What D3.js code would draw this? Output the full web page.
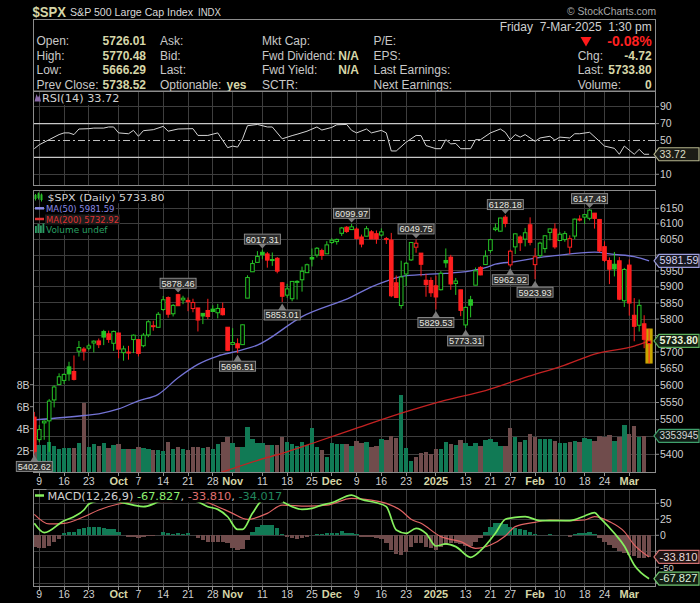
<!DOCTYPE html>
<html><head><meta charset="utf-8">
<script src="https://cdn.jsdelivr.net/npm/d3@7/dist/d3.min.js"></script>
<style>
html,body{margin:0;padding:0;background:#000;overflow:hidden}
svg{display:block}
</style></head><body>
<svg id="chart" width="700" height="603"></svg>
<script>
// ---------------- DATA ----------------
const prevCloseBefore = 5503.41;
const opens = [5507.33,5442.07,5490.51,5496.42,5557.48,5603.34,5615.21,5655.51,5641.68,5702.63,
5709.19,5711.90,5727.42,5733.65,5762.22,5755.36,5726.52,5757.73,5698.19,5698.56,
5737.80,5737.80,5719.14,5751.80,5778.36,5775.09,5829.81,5866.74,5816.58,5875.62,
5859.43,5857.82,5832.70,5834.50,5817.80,5826.75,5830.84,5819.68,5832.65,5775.34,
5723.22,5725.15,5722.43,5864.89,5947.21,5976.76,6008.86,6003.60,5985.75,5989.68,
5912.79,5874.17,5863.04,5914.01,5922.05,5944.36,5992.28,6000.03,6014.11,6003.98,
6040.11,6042.97,6069.39,6089.03,6081.38,6083.01,6057.59,6060.15,6074.29,6068.17,
6063.79,6052.55,6047.65,5912.71,5842.00,5940.25,5984.63,6024.97,6006.17,5920.67,
5919.74,5903.26,5891.07,5982.81,5993.26,5910.66,5890.66,5782.35,5859.78,5905.21,
5961.14,5969.94,6014.12,6081.39,6076.32,6121.43,5969.04,6026.01,6057.70,6050.75,
6096.79,5969.65,5998.14,6020.45,6072.22,6083.13,6046.40,6049.32,6025.08,6060.59,
6115.52,6121.60,6117.76,6134.50,6114.10,6026.69,5982.73,5970.87,5981.88,5856.74,
5968.33,5811.98,5781.35,5785.87,5726.01];
const highs = [5522.47,5484.20,5497.91,5560.41,5600.71,5636.27,5636.05,5670.81,5689.75,5733.57,
5715.14,5725.36,5735.32,5741.03,5767.37,5764.76,5765.14,5757.73,5719.14,5718.78,
5753.27,5739.34,5757.60,5796.80,5795.03,5822.13,5871.41,5870.36,5846.52,5878.46,
5872.17,5866.92,5863.04,5834.85,5817.80,5862.82,5842.92,5847.19,5850.94,5775.34,
5772.50,5741.43,5783.44,5936.14,5983.84,6012.45,6017.31,6009.92,6008.19,5993.88,
5915.26,5909.44,5917.11,5920.67,5963.44,5972.90,6020.75,6025.42,6020.16,6044.17,
6053.58,6052.41,6089.84,6092.39,6099.97,6088.51,6065.40,6092.59,6079.68,6078.58,
6085.19,6057.68,6070.67,5935.52,5982.06,5978.25,6040.10,6049.75,6006.17,5940.79,
5929.74,5935.09,5949.34,6021.04,6000.68,5927.89,5890.66,5838.80,5871.92,5960.61,
5964.69,6014.96,6051.51,6100.81,6118.73,6128.18,6017.17,6069.10,6062.83,6086.64,
6120.91,6022.13,6042.48,6062.86,6084.03,6101.28,6073.38,6076.28,6063.00,6116.91,
6127.47,6129.63,6147.43,6134.50,6114.82,6043.65,5992.65,6009.82,5993.69,5959.40,
5986.09,5865.08,5860.59,5812.08,5770.48];
const lows = [5402.62,5434.49,5441.72,5406.96,5535.50,5601.65,5604.53,5614.05,5615.08,5686.42,
5674.49,5704.94,5698.99,5712.06,5721.01,5727.77,5703.53,5681.28,5674.00,5677.08,
5696.85,5686.85,5714.56,5745.02,5764.76,5775.09,5824.80,5804.48,5808.34,5840.25,
5846.11,5824.59,5821.17,5762.41,5784.92,5799.98,5823.08,5802.40,5811.28,5702.86,
5723.22,5696.51,5722.10,5864.89,5947.21,5976.76,5986.69,5960.08,5965.91,5942.28,
5853.01,5865.95,5855.02,5860.58,5885.06,5944.36,5963.91,5992.27,5984.87,6003.98,
6035.33,6033.39,6061.06,6070.68,6079.98,6048.63,6024.49,6060.15,6051.25,6035.77,
6059.14,6035.19,5867.79,5866.07,5832.30,5902.57,5981.44,6007.37,5932.95,5869.16,
5868.86,5829.53,5888.66,5960.01,5890.68,5874.78,5809.22,5773.31,5805.60,5905.21,
5936.33,5969.94,6006.88,6076.13,6074.67,6088.74,5962.92,6003.16,6012.96,6027.46,
6030.93,5923.93,5990.87,6007.06,6046.83,6019.96,6044.84,6042.34,6003.00,6050.95,
6107.62,6099.51,6111.15,6084.59,6008.56,5977.83,5908.49,5932.69,5858.78,5837.66,
5810.91,5732.59,5762.25,5711.64,5666.29];
const closes = [5408.42,5471.05,5495.52,5554.13,5595.76,5626.02,5633.09,5634.58,5618.26,5713.64,
5702.55,5718.57,5732.93,5722.26,5745.37,5738.17,5762.48,5708.75,5709.54,5699.94,
5751.07,5695.94,5751.13,5792.04,5780.05,5815.03,5859.85,5815.26,5842.47,5841.47,
5864.67,5853.98,5851.20,5797.42,5809.86,5808.12,5823.52,5832.92,5813.67,5705.45,
5728.80,5712.69,5782.76,5929.04,5973.10,5995.54,6001.35,5983.99,5985.38,5949.17,
5870.62,5893.62,5916.98,5917.11,5948.71,5969.34,5987.37,6021.63,5998.74,6032.38,
6047.15,6049.88,6086.49,6075.11,6090.27,6052.85,6034.91,6084.19,6051.25,6051.09,
6074.08,6050.61,5872.16,5867.08,5930.85,5974.07,6040.04,6037.59,5970.84,5906.94,
5881.63,5868.55,5942.47,5975.38,5909.03,5918.25,5827.04,5836.22,5842.91,5949.91,
5937.34,5996.66,6049.24,6086.37,6118.71,6101.24,6012.28,6067.70,6039.31,6071.17,
6040.53,5994.57,6037.88,6061.48,6083.57,6025.99,6066.44,6068.50,6051.97,6115.07,
6114.63,6129.58,6144.15,6117.52,6013.13,5983.25,5955.25,5956.06,5861.57,5954.50,
5849.72,5778.15,5842.63,5738.52,5733.80];
// volume in billions
const volumes = [2.5,2.49,2.49,2.8,2.42,2.18,2.27,2.27,2.27,2.67,
6.3,2.36,2.58,2.42,2.7,2.27,2.49,2.58,2.15,2.15,
2.15,2.3,2.24,2.12,2.03,2.03,1.97,2.79,2.15,2.3,
2.18,2.06,2.3,2.33,2.24,2.3,2.2,2.58,2.79,3.25,
2.67,2.3,2.3,4.12,3.06,2.67,2.67,2.49,2.49,2.49,
3.25,2.79,2.58,2.42,2.79,2.49,4.03,2.3,2.06,1.4,
2.67,2.58,2.58,2.58,2.42,2.88,2.67,2.76,2.33,2.42,
3.06,2.97,3.3,3.12,7.06,2.24,1.03,1.4,1.76,1.88,
1.67,2.15,2.15,2.79,2.58,2.49,2.97,2.7,2.42,2.67,
2.42,2.97,3.03,2.79,2.42,2.39,4.03,3.21,2.79,2.97,
3.49,3.21,3.06,3.06,3.06,2.88,2.7,2.7,2.79,2.88,
2.79,3.15,3.03,2.88,3.33,3.25,3.4,2.88,3.25,4.34,
3.52,4.25,3.25,3.35,0];
const ma50Idx = [0,10,13,17,21,25,29,33,37,41,45,54,64,68,71,74,79,83,88,91,93,97,101,105,113,117,121,124];
const ma50Val = [5499,5512,5517,5531,5555,5574,5623,5663,5688,5703,5721,5808,5869,5900,5918,5932,5939,5942,5950,5960,5971,5979,5990,5998,6009,6002,5995,5981.59];
const ma200Idx = [30,37,47,50,57,64,75,83,91,99,107,113,121,124];
const ma200Val = [5310,5345,5391,5403,5436,5470,5523,5557,5585,5624,5661,5694,5718,5732.92];
const rsiIdx = [0,1,3,5,6,7,8,9,11,12,14,15,16,17,19,20,21,22,24,26,27,29,32,33,35,37,39,40,41,42,43,45,47,48,50,52,53,55,57,58,60,61,63,64,65,67,68,70,71,72,73,75,77,78,79,81,82,83,84,85,86,88,89,90,92,94,95,96,97,98,99,101,102,104,105,106,108,109,110,112,114,115,117,118,119,121,122,123,124];
const rsiVal = [40.3,45,51,57,59,59,57,63.6,64,64.7,64.7,66,66,59,58,62,55,61.6,62.8,66.7,61,63.6,64,56,56,59,41.5,43.4,42.2,52,67.5,69,66,66,52,55.8,57.4,61,66,62.4,65.5,68.6,69,62,59,63.6,59,62,59,37.6,37.6,48,56,55.8,44,40.3,40.3,51,46,46.5,40.3,40.3,51,51,59,63.6,59.7,51,57,54,57,49,53,55,50.4,54,53,58,58,59.7,49,43.4,40.7,33.7,43.4,33.7,39.5,33.7,33.72];
const macdIdx = [0,2,6,8,10,11,13,15,17,20,22,24,25,28,30,33,35,37,39,41,42,44,46,48,50,52,54,56,58,60,64,66,69,71,73,75,77,79,81,83,85,88,90,93,95,97,99,102,105,108,111,113,114,117,119,121,124];
const macdVal = [18.7,4.1,22.8,29,39.5,48.9,54.1,55,52.5,47.2,44.7,48.9,52.5,56,57,52.5,44.7,40.5,29,9.2,9.2,34.3,54.1,56,52.5,44.7,40.5,42,47.2,50.8,62.8,56,50.8,44.7,8.3,3.1,10.9,3.1,-16.7,-13.5,-17.7,-34.4,-24,3.1,25,28.1,29.2,22.9,22.9,22.9,30.2,35.4,28.1,3.1,-16.7,-46.4,-67.827];
const sigIdx = [0,3,6,10,13,17,21,27,33,37,40,43,47,50,55,59,64,68,71,74,76,78,82,86,89,92,95,97,101,104,108,111,113,116,119,121,124];
const sigVal = [32.8,17.7,18.7,29,39.5,48.9,52.5,52.5,55.1,44.7,34.3,24.9,34.3,47.2,45.6,47.2,57.6,55,49.9,38.5,25,18.7,-2.1,-9.9,-20.3,-15.1,-1,13.6,20.3,23.9,22.9,23.9,29.2,21.4,5.7,-15.1,-33.81];
const histVal = [-17.7,-20.3,-20.3,-16.7,-9.9,-6,4.1,4.7,5.7,9.4,
12,13.6,13.6,13.6,12,10.4,9.4,4.7,0.5,-3,
-3,-4.7,-3,-1,-1,0,4.7,3.1,2,3.1,
2,3.1,0,-4.7,-7.3,-9.9,-9.9,-9.9,-9.9,-12.5,
-19.3,-22.9,-21.9,-7.3,5.7,12.5,16.1,16.1,16.1,10.9,
2,-3.1,-4.7,-6.3,-4.7,-3.1,1,2,2,3.1,
3.1,4.1,7.3,4.1,4.1,2,-2,-2,-3,-4.7,
-6.3,-11.5,-22.9,-29.2,-30.7,-25.5,-17.7,-12.5,-11.5,-17.7,
-20.3,-22.9,-17.7,-15.1,-12.5,-12.5,-14,-17,-17,-10,
-4.7,5.7,13.6,18.8,19.8,17.7,13.6,10.9,9.4,8.3,
5.7,2,0,0,2,0,0,0,-2,2,
3.1,4.1,4.7,2,-4.7,-9.9,-15.1,-20.3,-23.9,-28.1,
-30.7,-32.3,-35.9,-35.9,-34];
const annIdx = [0,29,41,46,50,64,77,81,87,95,96,101,112];
const annVal = [5402.62,5878.46,5696.51,6017.31,5853.01,6099.97,6049.75,5829.53,5773.31,6128.18,5962.92,5923.93,6147.43];
const annPos = ['l','h','l','h','l','h','h','l','l','h','l','l','h'];
const tickIdx = [1,6,11,17,21,26,31,36,40,46,51,56,60,65,70,75,81,87,92,96,101,106,111,115,120];
const tickLab = ['9','16','23','Oct','7','14','21','28','Nov','11','18','25','Dec','9','16','23','2025','13','21','27','Feb','10','18','24','Mar'];
const priceTicks = [5400,5450,5500,5550,5600,5650,5700,5750,5800,5850,5900,5950,6000,6050,6100,6150];
const priceTickHidden = [5450,5750,6000];   // covered by value tags in the reference
const volTicks = [2,4,6,8];
const volTickLab = ['2B','4B','6B','8B'];
const rsiTicks = [90,70,50,30,10];
const rsiTickHidden = [30];
const macdTicks = [50,25,0,-25,-50,-75];
const macdTickHidden = [-25,-75];

// ---------------- LAYOUT ----------------
const SANS = '"Liberation Sans", Arial, Helvetica, sans-serif';
const DEJA = '"DejaVu Sans", Verdana, sans-serif';
const PL = 33, PR = 656;
const rsiTop = 91, rsiBot = 186, mainTop = 190, mainBot = 473, macdTop = 489, macdBot = 587;
const GRID = '#3e3e3e', BORDER = '#8c8c8c', AXC = '#cfcfcf', MONTHC = '#d6d6a6';
const UPC = '#26c426', DNC = '#ff1f1f', VUP = '#117a55', VDN = '#704c4c';

const x = d3.scaleLinear().domain([0,124]).range([34.3,649.1]);
const yP = d3.scaleLog().domain([5346.9,6210]).range([mainBot,mainTop]);
const yV = d3.scaleLinear().domain([0,25.7]).range([472.7,190]);
const yR = d3.scaleLinear().domain([10,90]).range([174.3,106.7]);
const yM = d3.scaleLinear().domain([-50,50]).range([567.3,503.3]);

const svg = d3.select('#chart');
svg.append('rect').attr('width',700).attr('height',603).attr('fill','#000');
const defs = svg.append('defs');
function clip(id,y0,y1){defs.append('clipPath').attr('id',id).append('rect').attr('x',PL).attr('y',y0).attr('width',PR-PL).attr('height',y1-y0);}
clip('cR',rsiTop,rsiBot); clip('cM',mainTop,mainBot); clip('cD',macdTop,macdBot);

function text(g,xx,yy,s,o={}){
  const t=g.append('text').attr('x',xx).attr('y',yy).text(s)
    .style('font-family',o.fam||SANS).attr('font-size',o.size||12)
    .attr('fill',o.fill||AXC);
  if(o.weight) t.attr('font-weight',o.weight);
  if(o.anchor) t.attr('text-anchor',o.anchor);
  if(o.len) t.attr('textLength',o.len).attr('lengthAdjust','spacingAndGlyphs');
  return t;
}

// ---------------- HEADER ----------------
const hd = svg.append('g');
text(hd,32.5,16.5,'$SPX',{size:15.5,weight:'bold',fill:MONTHC,len:33.5});
text(hd,70,16,'S&P 500 Large Cap Index',{size:11,fill:'#d8d8d8',len:123});
text(hd,198,16,'INDX',{size:10,fill:'#d8d8d8',len:23});
text(hd,656,15,'© StockCharts.com',{size:11,fill:'#a8a8a8',anchor:'end',len:89});
hd.append('rect').attr('x',PL+0.5).attr('y',19.5).attr('width',PR-PL-1).attr('height',71.5)
  .attr('fill','none').attr('stroke',BORDER);
text(hd,651.7,30.5,'Friday  7-Mar-2025  1:30 pm',{size:12,fill:'#d0d0d0',anchor:'end'}).attr('xml:space','preserve');
const rowsY=[45,59.5,74,88.5];
const LBL='#c8c8c8', VAL='#d6d6a8';
['Open:','High:','Low:','Prev Close:'].forEach((s,i)=>text(hd,36.5,rowsY[i],s,{fill:LBL}));
['5726.01','5770.48','5666.29','5738.52'].forEach((s,i)=>text(hd,146,rowsY[i],s,{fill:VAL,weight:'bold',anchor:'end'}));
['Ask:','Bid:','Last:','Optionable:'].forEach((s,i)=>text(hd,160,rowsY[i],s,{fill:LBL}));
text(hd,226.5,rowsY[3],'yes',{fill:VAL,weight:'bold'});
text(hd,262,rowsY[0],'Mkt Cap:',{fill:LBL});
text(hd,262,rowsY[1],'Fwd Dividend:',{fill:LBL,len:73.5});
text(hd,262,rowsY[2],'Fwd Yield:',{fill:LBL});
text(hd,262,rowsY[3],'SCTR:',{fill:LBL});
text(hd,359,rowsY[1],'N/A',{fill:VAL,weight:'bold',anchor:'end'});
text(hd,359,rowsY[2],'N/A',{fill:VAL,weight:'bold',anchor:'end'});
['P/E:','EPS:','Last Earnings:','Next Earnings:'].forEach((s,i)=>text(hd,373.5,rowsY[i],s,{fill:LBL}));
hd.append('path').attr('d','M580.5,37 L591.5,37 L586,46.5 Z').attr('fill','#ff1a1a');
text(hd,651.7,rowsY[0]+0.5,'-0.08%',{size:14,fill:'#ff2020',weight:'bold',anchor:'end'});
['Chg:','Last:','Volume:'].forEach((s,i)=>text(hd,577.7,rowsY[i+1],s,{fill:LBL}));
['-4.72','5733.80','0'].forEach((s,i)=>text(hd,651.7,rowsY[i+1],s,{fill:VAL,weight:'bold',anchor:'end'}));

// ---------------- GRIDS ----------------
const grid = svg.append('g').attr('shape-rendering','crispEdges');
[[rsiTop,rsiBot],[mainTop,mainBot],[macdTop,macdBot]].forEach(([a,b])=>{
  grid.append('g').selectAll('line').data(tickIdx).join('line')
    .attr('x1',d=>x(d)).attr('x2',d=>x(d)).attr('y1',a).attr('y2',b).attr('stroke',GRID);
});
grid.append('g').selectAll('line').data(priceTicks).join('line')
  .attr('x1',PL).attr('x2',PR).attr('y1',d=>yP(d)).attr('y2',d=>yP(d)).attr('stroke',GRID);
grid.append('g').selectAll('line').data([90,10]).join('line')
  .attr('x1',PL).attr('x2',PR).attr('y1',d=>yR(d)).attr('y2',d=>yR(d)).attr('stroke',GRID);
grid.append('g').selectAll('line').data(macdTicks).join('line')
  .attr('x1',PL).attr('x2',PR).attr('y1',d=>yM(d)).attr('y2',d=>yM(d)).attr('stroke',GRID);

// ---------------- RSI ----------------
const gR = svg.append('g').attr('clip-path','url(#cR)');
gR.selectAll('line.ref').data([70,30]).join('line').attr('class','ref')
  .attr('x1',PL).attr('x2',PR).attr('y1',d=>yR(d)).attr('y2',d=>yR(d))
  .attr('stroke','#c8c8c8').attr('stroke-width',1.2);
gR.append('line').attr('x1',PL).attr('x2',PR).attr('y1',yR(50)).attr('y2',yR(50))
  .attr('stroke','#c0c0c0').attr('stroke-width',1.1).attr('stroke-dasharray','7,3,2,3');
const rsiPts = rsiIdx.map((d,i)=>[d,rsiVal[i]]);
gR.append('path').attr('d',d3.line().x(d=>x(d[0])).y(d=>yR(d[1]))(rsiPts))
  .attr('fill','none').attr('stroke','#d4d4d4').attr('stroke-width',1);

// ---------------- MAIN: volume ----------------
const prevOf = i => i===0 ? prevCloseBefore : closes[i-1];
const gM = svg.append('g').attr('clip-path','url(#cM)');
gM.append('g').attr('shape-rendering','crispEdges').selectAll('rect').data(volumes.map((v,i)=>({v,i})).filter(d=>d.v>0)).join('rect')
  .attr('x',d=>x(d.i)-2.2).attr('width',4.4)
  .attr('y',d=>yV(d.v)).attr('height',d=>yV(0)-yV(d.v))
  .attr('fill',d=>closes[d.i]>=prevOf(d.i)?VUP:VDN);

// moving averages
const ln = d3.line().x(d=>x(d[0])).y(d=>yP(d[1])).curve(d3.curveMonotoneX);
gM.append('path').attr('d',ln(ma200Idx.map((d,i)=>[d,ma200Val[i]])))
  .attr('fill','none').attr('stroke','#c42222').attr('stroke-width',1.3);
gM.append('path').attr('d',ln(ma50Idx.map((d,i)=>[d,ma50Val[i]])))
  .attr('fill','none').attr('stroke','#7474d6').attr('stroke-width',1.3);

// last bar highlight
const last = closes.length-1;
gM.append('rect').attr('x',x(last)-3.4).attr('width',6.8)
  .attr('y',yP(highs[last])).attr('height',yP(lows[last])-yP(highs[last]))
  .attr('fill','#c9a600').attr('stroke','#9a8000').attr('stroke-width',0.6);

// candles
const bars = closes.map((c,i)=>({i,o:opens[i],h:highs[i],l:lows[i],c,
  col: c>=prevOf(i)?UPC:DNC, hollow: c>opens[i]}));
const cg = gM.append('g');
cg.selectAll('line').data(bars).join('line')
  .attr('x1',d=>x(d.i)).attr('x2',d=>x(d.i)).attr('y1',d=>yP(d.h)).attr('y2',d=>yP(d.l))
  .attr('stroke',d=>d.col).attr('stroke-width',1);
cg.selectAll('rect').data(bars).join('rect')
  .attr('x',d=>x(d.i)-1.8).attr('width',3.6)
  .attr('y',d=>yP(Math.max(d.o,d.c))).attr('height',d=>Math.max(1,Math.abs(yP(d.o)-yP(d.c))))
  .attr('fill',d=>d.hollow?'#000':d.col).attr('stroke',d=>d.col).attr('stroke-width',1);

// ---------------- MACD ----------------
const gD = svg.append('g').attr('clip-path','url(#cD)');
gD.append('g').attr('shape-rendering','crispEdges').selectAll('rect').data(histVal.map((v,i)=>({v,i}))).join('rect')
  .attr('x',d=>x(d.i)-2.2).attr('width',4.4)
  .attr('y',d=>Math.min(yM(0),yM(d.v))).attr('height',d=>Math.abs(yM(d.v)-yM(0)))
  .attr('fill',d=>d.v>=0?VUP:VDN);
const lm = d3.line().x(d=>x(d[0])).y(d=>yM(d[1])).curve(d3.curveMonotoneX);
gD.append('path').attr('d',lm(sigIdx.map((d,i)=>[d,sigVal[i]])))
  .attr('fill','none').attr('stroke','#e06464').attr('stroke-width',1.2);
gD.append('path').attr('d',lm(macdIdx.map((d,i)=>[d,macdVal[i]])))
  .attr('fill','none').attr('stroke','#86f05e').attr('stroke-width',1.7);

// ---------------- BORDERS & AXES ----------------
const bd = svg.append('g').attr('shape-rendering','crispEdges');
[[rsiTop,rsiBot],[mainTop,mainBot],[macdTop,macdBot]].forEach(([a,b])=>{
  bd.append('rect').attr('x',PL+0.5).attr('y',a+0.5).attr('width',PR-PL-1).attr('height',b-a-1)
    .attr('fill','none').attr('stroke',BORDER);
});
[mainBot,macdBot].forEach(yb=>{
  bd.append('g').selectAll('line').data(tickIdx).join('line')
    .attr('x1',d=>x(d)).attr('x2',d=>x(d)).attr('y1',yb).attr('y2',yb+3).attr('stroke',BORDER);
});
// date labels
[484.5,598].forEach(yy=>{
  const g=svg.append('g');
  tickIdx.forEach((d,i)=>{
    const s=tickLab[i]; const isM=isNaN(+s)||s==='2025';
    text(g,x(d),yy,s,{size:isM?11:10.5,anchor:'middle',fill:isM?MONTHC:AXC,weight:isM?'bold':null});
  });
});
// right axis labels
const ax = svg.append('g');
function rlab(yy,s,hidden,dy,size){
  ax.append('line').attr('x1',PR).attr('x2',PR+3).attr('y1',yy).attr('y2',yy).attr('stroke',BORDER);
  if(!hidden) text(ax,660,yy+3.6+(dy||0),s,{size:size||10.5,fill:AXC});
}
priceTicks.forEach(p=>rlab(yP(p),String(p),priceTickHidden.includes(p),p===5950?1:0));
rsiTicks.forEach(v=>rlab(yR(v),String(v),rsiTickHidden.includes(v)));
macdTicks.forEach(v=>rlab(yM(v),String(v),macdTickHidden.includes(v),0,v===-50?9.5:10.5));
volTicks.forEach((v,i)=>{
  ax.append('line').attr('x1',PL-3).attr('x2',PL).attr('y1',yV(v)).attr('y2',yV(v)).attr('stroke',BORDER);
  text(ax,29.5,yV(v)+3.8,volTickLab[i],{size:10.5,fill:AXC,anchor:'end'});
});

// ---------------- ANNOTATIONS ----------------
const an = svg.append('g');
annIdx.forEach((d,k)=>{
  const cx=x(d), py=yP(annVal[k]), w=36, h=10;
  const hi = annPos[k]==='h';
  const by = hi ? py-5.5-h : py+8;
  if(hi) an.append('path').attr('d',`M${cx-4},${by+h} L${cx+4},${by+h} L${cx},${py-1.2} Z`).attr('fill','#7a7a7a');
  else an.append('path').attr('d',`M${cx-4},${by} L${cx+4},${by} L${cx},${py+1.5} Z`).attr('fill','#7a7a7a');
  an.append('rect').attr('x',cx-w/2).attr('y',by).attr('width',w).attr('height',h)
    .attr('fill','#2c2c2c').attr('stroke','#929292').attr('stroke-width',0.9);
  text(an,cx,by+h-1.6,annVal[k].toFixed(2),{size:9.2,anchor:'middle',fill:'#e8e8e0'});
});

// ---------------- VALUE TAGS ----------------
function tag(yy,s,stroke,fill,tf,bold,len,size){
  const g=svg.append('g');
  g.append('path').attr('d',`M654,${yy} L659,${yy-6.5} L699,${yy-6.5} L699,${yy+6.5} L659,${yy+6.5} Z`)
    .attr('fill',fill).attr('stroke',stroke).attr('stroke-width',1.2);
  text(g,659.5,yy+3.6,s,{size:size||10.5,fill:tf,weight:bold?'bold':null,len:len});
}
tag(yR(rsiVal[rsiVal.length-1]),'33.72','#b4b48c','#1c1c16','#dcdcc4');
tag(yP(ma50Val[ma50Val.length-1]),'5981.59','#9c9cdc','#16161e','#d4d4f0',false,39);
tag(yV(volumes[123]),'3353945','#3fa06c','#101c16','#d4d4d4',false,null,10);
tag(yP(closes[last]),'5733.80','#5cb05c','#121e12','#e8f0d8',true,38.5);
tag(yM(sigVal[sigVal.length-1]),'-33.810','#d07070','#1e1212','#ead8d8',false,38,10);
tag(yM(macdVal[macdVal.length-1]),'-67.827','#72c872','#121e12','#dcf0dc',false,38,10);

// ---------------- LEGENDS ----------------
function legendLine(g,xx,yy,parts,size,bg,len){
  const t=g.append('text').attr('x',xx).attr('y',yy).style('font-family',DEJA).attr('font-size',size);
  if(len) t.attr('textLength',len).attr('lengthAdjust','spacingAndGlyphs');
  parts.forEach(p=>t.append('tspan').text(p[0]).attr('fill',p[1]));
  const bb=t.node().getBBox();
  g.insert('rect','text').attr('x',bb.x-1).attr('y',bb.y).attr('width',bb.width+2).attr('height',bb.height).attr('fill',bg||'#000');
  return t;
}
// RSI legend
const lr = svg.append('g');
legendLine(lr,42,102,[['RSI(14) 33.72','#d0d0d0']],11.3);
lr.append('path').attr('d','M34.5,101.5 L36.5,94 L38,97.5 L39.5,95 L41,101.5 Z').attr('fill','#8a6aa8');
// main legend (rows 10.6 px apart)
const lg = svg.append('g');
legendLine(lg,47.5,201.3,[['$SPX (Daily) 5733.80','#d8d8d8']],9,null,117);
legendLine(lg,46,211.9,[['MA(50) 5981.59','#8a8ae6']],9,null,68.5);
legendLine(lg,46,222.5,[['MA(200) 5732.92','#e03232']],9,'#1c1c1c',73);
legendLine(lg,46,233.1,[['Volume undef','#2aa064']],9,null,61.5);
// icons
[[35.5,195,199],[38.5,193.5,198],[41.5,194.5,200]].forEach(([xx,a,b])=>{
  lg.append('line').attr('x1',xx).attr('x2',xx).attr('y1',a-1).attr('y2',b+1.5).attr('stroke','#28c028');
  lg.append('rect').attr('x',xx-1).attr('y',a).attr('width',2).attr('height',b-a).attr('fill','#28c028');
});
lg.append('line').attr('x1',35).attr('x2',44).attr('y1',208.3).attr('y2',208.3).attr('stroke','#8a8ae6').attr('stroke-width',2.5);
lg.append('line').attr('x1',35).attr('x2',44).attr('y1',219).attr('y2',219).attr('stroke','#e03232').attr('stroke-width',2.5);
[[35,226],[37.5,224],[40,225.5],[42.5,223.5]].forEach(([xx,t])=>
  lg.append('rect').attr('x',xx).attr('y',t).attr('width',1.8).attr('height',233-t).attr('fill','#2a9a62'));
// MACD legend
const lmg = svg.append('g');
legendLine(lmg,47.5,499.5,[['MACD(12,26,9) ','#d0d0d0'],['-67.827','#8ef070'],[', ','#d0d0d0'],['-33.810','#e07070'],[', ','#d0d0d0'],['-34.017','#22875e']],11.3);
lmg.append('line').attr('x1',35).attr('x2',44).attr('y1',495.5).attr('y2',495.5).attr('stroke','#86f05e').attr('stroke-width',2.5);
</script></body></html>
